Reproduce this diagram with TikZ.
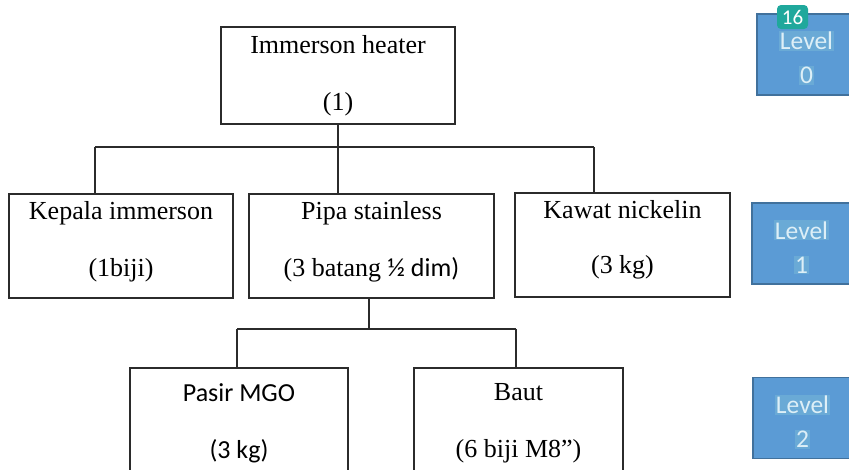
\documentclass[tikz,border=0pt]{standalone}
\usepackage{fontspec}
\setmainfont{Liberation Serif}
\newfontfamily\calibri{Carlito}
\usetikzlibrary{positioning}

\definecolor{lvlfill}{HTML}{5B9BD5}
\definecolor{lvledge}{HTML}{41719C}
\definecolor{lvlhi}{HTML}{6AAAD6}
\definecolor{lvltext}{HTML}{DDEFF7}
\definecolor{badgefill}{HTML}{1FA89C}
\definecolor{linegray}{HTML}{2B2B2B}

\tikzset{
  item/.style={draw=linegray, line width=1.1pt, rectangle, inner sep=0pt,
    align=center, font=\fontsize{26}{57}\selectfont},
  levelbox/.style={draw=lvledge, line width=1.2pt, fill=lvlfill, rectangle,
    inner sep=0pt, minimum width=99pt, minimum height=81pt, align=center,
    text=lvltext, font=\calibri\fontsize{25.5}{34}\selectfont},
  link/.style={draw=linegray, line width=1.1pt}
}
\setlength{\fboxsep}{1pt}
\newcommand{\hilite}[1]{\colorbox{lvlhi}{#1}}
\newcommand{\lvltext}[1]{\rule{0pt}{26pt}\hilite{Level}\\\hilite{#1}}

\begin{document}
\begin{tikzpicture}[x=1pt, y=-1pt]

\useasboundingbox (0,0) rectangle (849,469);

%\draw [help lines] (0,0) grid (849,469);

% level 0
\node [item, minimum width=234pt, minimum height=97pt] (heater) at (338,75.5)
  {Immerson heater\\(1)};

% level 1
\node [item, minimum width=224pt, minimum height=104pt, text depth=14pt] (kepala) at (121,246)
  {Kepala immerson\\(1biji)};
\node [item, minimum width=245pt, minimum height=104pt, text depth=14pt] (pipa) at (371.5,246)
  {Pipa stainless\\(3 batang {\calibri ½ dim)}};
\node [item, minimum width=215pt, minimum height=104pt, text depth=16pt,
  font=\fontsize{26}{55}\selectfont] (kawat) at (622.5,245)
  {Kawat nickelin\\(3 kg)};

% level 2
\node [item, minimum width=218pt, minimum height=110pt] (pasir) at (239,423)
  {\calibri Pasir MGO\\\calibri (3 kg)};
\node [item, minimum width=209pt, minimum height=110pt] (baut) at (518.5,423)
  {Baut\\(6 biji M8'')};

% connectors from heater
\coordinate (busL) at (95,147);
\coordinate (busR) at (594,147);
\draw [link] (heater.south) -- (heater.south |- pipa.north);
\draw [link] (busL) -- (busR);
\draw [link] (busL) -- (busL |- kepala.north);
\draw [link] (busR) -- (busR |- kawat.north);

% connectors from pipa
\coordinate (drop) at (369,329);
\coordinate (subL) at (237,329);
\coordinate (subR) at (516,329);
\draw [link] (drop |- pipa.south) -- (drop);
\draw [link] (subL) -- (subR);
\draw [link] (subL) -- (subL |- pasir.north);
\draw [link] (subR) -- (subR |- baut.north);

% level labels
\node [levelbox] (lvl0) at (806.5,54.5) {\lvltext{0}};
\node [levelbox] (lvl1) at (801.5,243.5) {\lvltext{1}};
\node [levelbox] (lvl2) at (802.5,418) {\lvltext{2}};

% page badge
\node [fill=badgefill, rounded corners=4pt, text=white, inner sep=0pt,
  minimum width=31pt, minimum height=24pt, font=\calibri\fontsize{21}{21}\selectfont]
  (badge) at (792.5,17) {16};

\end{tikzpicture}
\end{document}
